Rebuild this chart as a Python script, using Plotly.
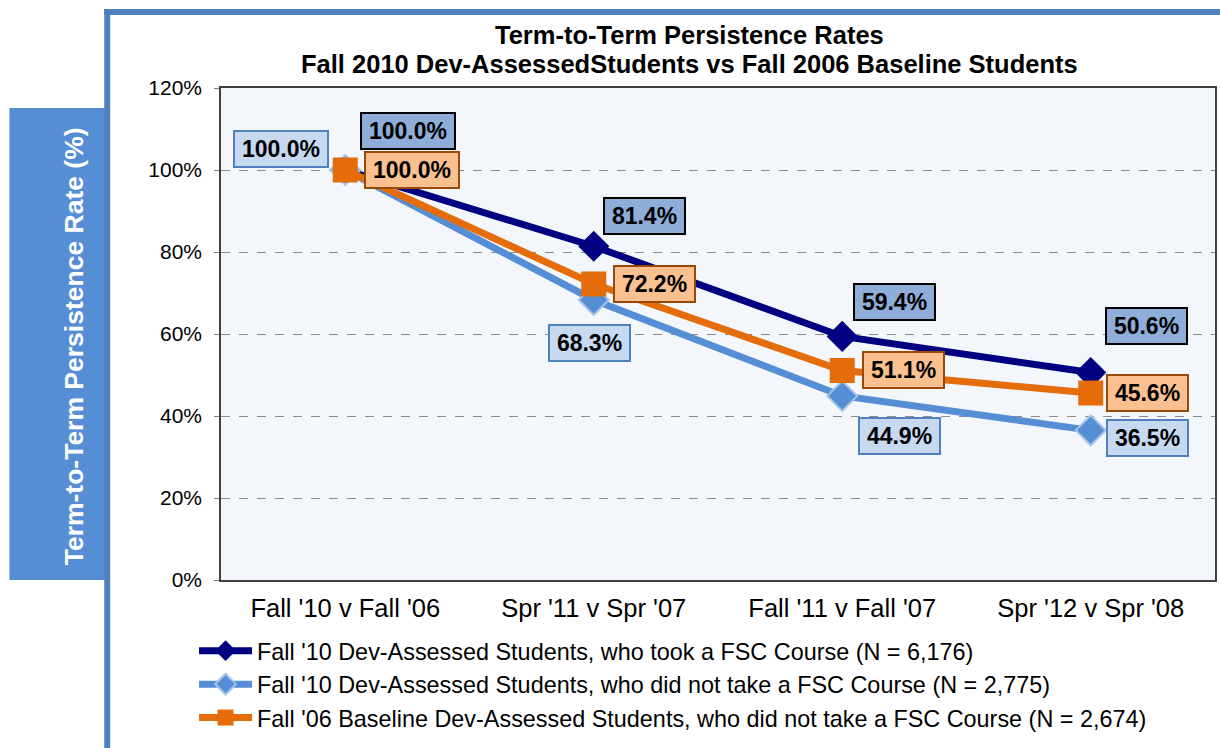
import plotly.graph_objects as go

categories = ["Fall '10 v Fall '06", "Spr '11 v Spr '07", "Fall '11 v Fall '07", "Spr '12 v Spr '08"]
took_fsc = [100.0, 81.4, 59.4, 50.6]
no_fsc = [100.0, 68.3, 44.9, 36.5]
baseline = [100.0, 72.2, 51.1, 45.6]
names = [
    "Fall '10 Dev-Assessed Students, who took a FSC Course (N = 6,176)",
    "Fall '10 Dev-Assessed Students, who did not take a FSC Course (N = 2,775)",
    "Fall '06 Baseline Dev-Assessed Students, who did not take a FSC Course (N = 2,674)",
]
y_ticks = [0, 20, 40, 60, 80, 100, 120]
title_lines = ["Term-to-Term Persistence Rates",
               "Fall 2010 Dev-AssessedStudents vs Fall 2006 Baseline Students"]
y_title = "Term-to-Term Persistence Rate (%)"

FONT = "Liberation Sans, Arial, sans-serif"
L, R, T, B = 221, 3, 88, 168
W, H = 1220, 748
pw, ph = W - L - R, H - T - B

def px(x):
    return (x - L) / pw

def py(y):
    return (H - B - y) / ph

fig = go.Figure()
fig.add_trace(go.Scatter(x=categories, y=took_fsc, name=names[0], mode="lines+markers",
                         line=dict(color="#000080", width=7),
                         marker=dict(symbol="diamond", size=24, color="#000080")))
fig.add_trace(go.Scatter(x=categories, y=no_fsc, name=names[1], mode="lines+markers",
                         line=dict(color="#558ED5", width=7),
                         marker=dict(symbol="diamond", size=23, color="#558ED5",
                                     line=dict(color="#A6C3E8", width=2))))
fig.add_trace(go.Scatter(x=categories, y=baseline, name=names[2], mode="lines+markers",
                         line=dict(color="#E46C0A", width=7),
                         marker=dict(symbol="square", size=25, color="#E46C0A")))

# data labels: (dx, dy) pixel offsets of the box centre from its point
offsets = {
    0: ([(63, -39), (51, -30), (52, -34), (56, -47)], "#8EADD8", "#000000"),
    1: ([(-64, -21), (-4, 43), (57, 40), (57, 8)], "#C6D9F1", "#4F81BD"),
    2: ([(67, 0), (61, 0), (61, 0), (57, 0)], "#FAC090", "#984807"),
}
series = [took_fsc, no_fsc, baseline]
annotations = []
for si, vals in enumerate(series):
    offs, bg, bc = offsets[si]
    for i, v in enumerate(vals):
        txt = f"{v:.1f}%"
        annotations.append(dict(
            x=categories[i], y=v, xref="x", yref="y",
            text=f"<b>{txt}</b>", showarrow=True, ax=offs[i][0], ay=offs[i][1],
            arrowcolor="rgba(0,0,0,0)", arrowwidth=0.1,
            width=84 if len(txt) > 5 else 71,
            bgcolor=bg, bordercolor=bc, borderwidth=2, borderpad=4,
            font=dict(family=FONT, size=23, color="#000000")))

annotations.append(dict(
    x=px(57), y=py(346), xref="paper", yref="paper", showarrow=False,
    text=f"<b>{y_title}</b>", textangle=-90,
    font=dict(family=FONT, size=26.5, color="#FFFFFF")))

for yc, line in zip([35, 64], title_lines):
    annotations.append(dict(
        x=px(690), y=py(yc), xref="paper", yref="paper", showarrow=False,
        xanchor="center", yanchor="middle", text=f"<b>{line}</b>",
        font=dict(family=FONT, size=25.5, color="#000000")))

shapes = [
    dict(type="rect", xref="paper", yref="paper", x0=px(9), x1=px(105), y0=py(580), y1=py(108),
         fillcolor="#558ED5", line=dict(width=0), layer="below"),
    dict(type="rect", xref="paper", yref="paper", x0=px(104), x1=px(110), y0=py(760), y1=py(9),
         fillcolor="#4F81BD", line=dict(width=0), layer="below"),
    dict(type="rect", xref="paper", yref="paper", x0=px(104), x1=px(1230), y0=py(15), y1=py(9),
         fillcolor="#4F81BD", line=dict(width=0), layer="below"),
]

fig.update_layout(
    width=W, height=H,
    margin=dict(l=L, r=R, t=T, b=B),
    paper_bgcolor="#FFFFFF", plot_bgcolor="#F3F6FB",
    font=dict(family=FONT, size=20, color="#000000"),
    xaxis=dict(range=[-0.5, 3.5], showline=True, linecolor="#404040", linewidth=1.5, mirror=True,
               showgrid=False, ticks="", tickfont=dict(size=25.5), fixedrange=True,
               ticklabelstandoff=5),
    yaxis=dict(range=[0, 120], tickvals=y_ticks, ticktext=[f"{t}%" for t in y_ticks],
               showline=True, linecolor="#404040", linewidth=1.5, mirror=True,
               showgrid=True, gridcolor="#8C8C8C", griddash="dash", gridwidth=1,
               ticks="outside", ticklen=5, tickcolor="#808080", tickfont=dict(size=21),
               zeroline=False, ticklabelstandoff=8, fixedrange=True),
    legend=dict(x=px(194), y=py(629), xanchor="left", yanchor="top",
                font=dict(family=FONT, size=23.4, color="#000000"),
                bgcolor="rgba(0,0,0,0)", itemwidth=53, tracegroupgap=0),
    showlegend=True,
    annotations=annotations,
    shapes=shapes,
)

fig.write_html("out.html", config={"displayModeBar": False},
               post_script="document.body.style.margin='0';")
